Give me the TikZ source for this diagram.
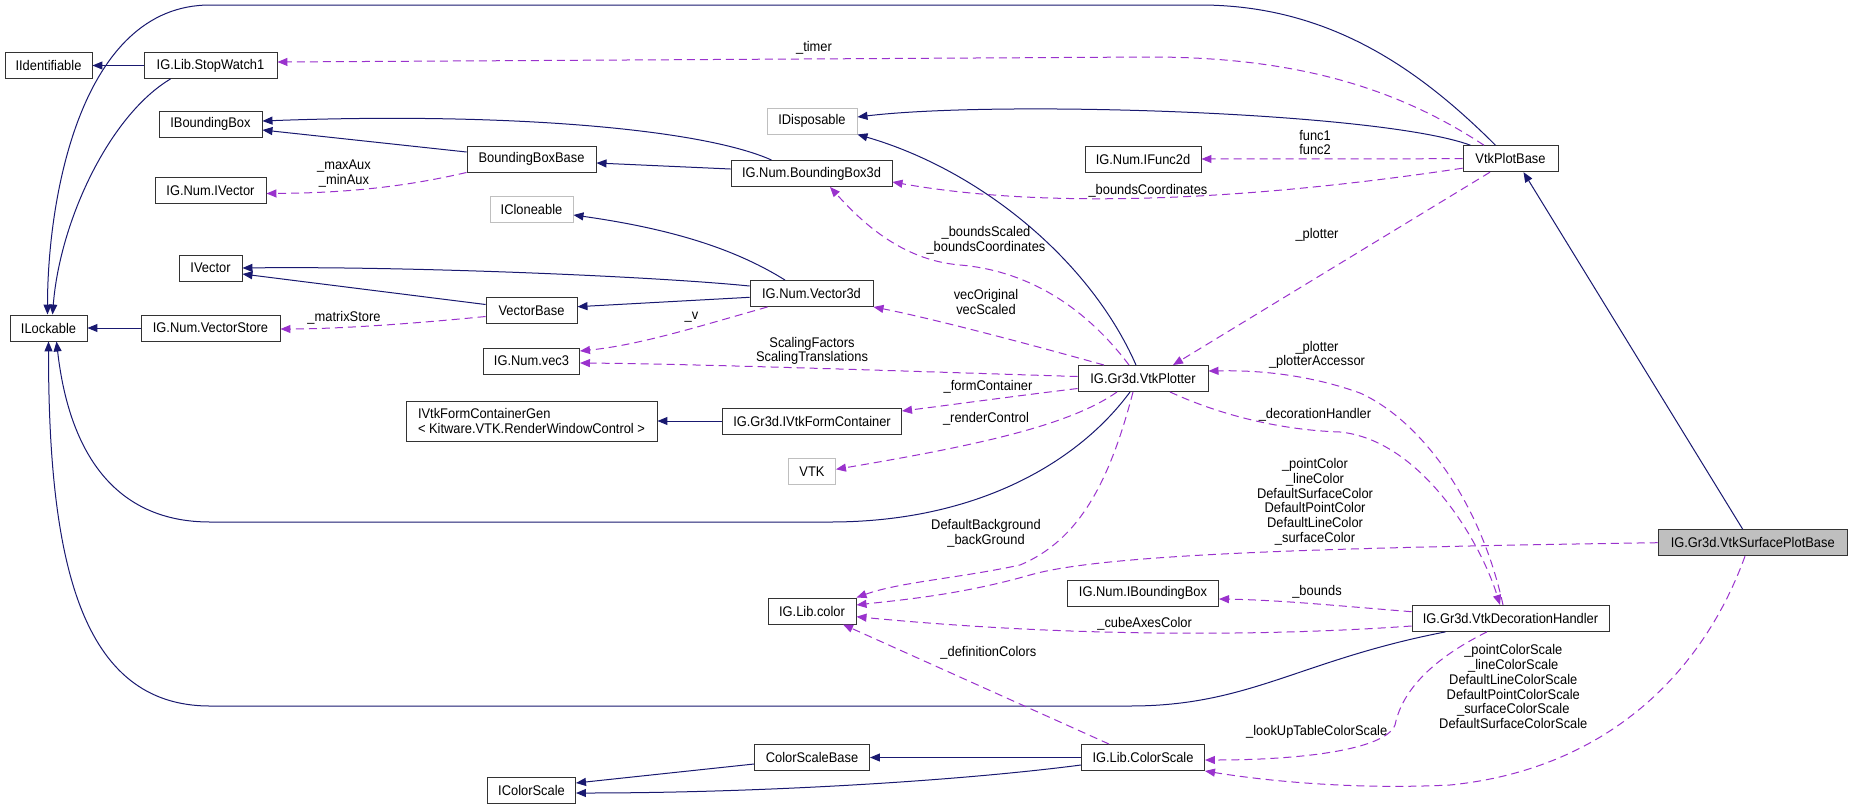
\documentclass[tikz,border=0pt]{standalone}
\usepackage{fontspec}
\newfontfamily\dgfam{Liberation Sans}[FakeStretch=0.92]
\newcommand\dgfont{\dgfam\fontsize{14pt}{14.7pt}\selectfont}
\usetikzlibrary{arrows.meta,calc}
\definecolor{dgnavy}{HTML}{191970}
\definecolor{dgorchid}{HTML}{9A32CD}
\definecolor{dggrey}{HTML}{BFBFBF}
\tikzset{
  box/.style={draw=black!80, line width=0.95pt, fill=white, inner sep=0pt, minimum height=26pt, font=\dgfont},
  gbox/.style={box, draw=dggrey},
  inh/.style={draw=dgnavy, line width=1pt, -{Triangle[length=10pt,width=8pt]}},
  use/.style={draw=dgorchid, line width=1pt, dash pattern=on 8pt off 5pt, -{Triangle[length=10pt,width=8pt]}},
  lbl/.style={font=\dgfont, align=center, inner sep=0pt},
}
\begin{document}
\begin{tikzpicture}[x=1pt,y=-1pt]
\useasboundingbox[fill=white] (0,0) rectangle (1852,809);
% column 1
\node[box,minimum width=87] (idf) at (48.5,65.5) {IIdentifiable};
\node[box,minimum width=77] (ilk) at (48.5,328) {ILockable};
% column 2
\node[box,minimum width=133] (sw) at (210.5,65.5) {IG.Lib.StopWatch1};
\node[box,minimum width=103] (ibb) at (210.5,124) {IBoundingBox};
\node[box,minimum width=111] (niv) at (210.5,190.5) {IG.Num.IVector};
\node[box,minimum width=63] (ivec) at (210.5,268) {IVector};
\node[box,minimum width=139] (vs) at (210.5,328) {IG.Num.VectorStore};
% column 3
\node[box,minimum width=129] (bbb) at (531.5,159) {BoundingBoxBase};
\node[gbox,minimum width=83] (icl) at (531.5,209.5) {ICloneable};
\node[box,minimum width=91] (vb) at (531.5,310.5) {VectorBase};
\node[box,minimum width=96] (v3) at (531.5,361) {IG.Num.vec3};
\node[box,minimum width=251,minimum height=40,align=left] (fcg) at (531.5,421) {IVtkFormContainerGen\\< Kitware.VTK.RenderWindowControl >};
\node[box,minimum width=88] (ics) at (531.5,790.5) {IColorScale};
% column 4
\node[gbox,minimum width=90] (idis) at (812,121) {IDisposable};
\node[box,minimum width=161] (bb3) at (811.5,173.5) {IG.Num.BoundingBox3d};
\node[box,minimum width=123] (vec3d) at (811.5,293.5) {IG.Num.Vector3d};
\node[box,minimum width=179] (fc) at (812,421) {IG.Gr3d.IVtkFormContainer};
\node[gbox,minimum width=47] (vtk) at (812,471.7) {VTK};
\node[box,minimum width=88] (col) at (812,611) {IG.Lib.color};
\node[box,minimum width=115] (csb) at (812,757.5) {ColorScaleBase};
% column 5
\node[box,minimum width=116] (f2d) at (1143,159) {IG.Num.IFunc2d};
\node[box,minimum width=130] (vp) at (1143,378.5) {IG.Gr3d.VtkPlotter};
\node[box,minimum width=151] (nibb) at (1143,593.3) {IG.Num.IBoundingBox};
\node[box,minimum width=123] (cs) at (1143,757.5) {IG.Lib.ColorScale};
% column 6
\node[box,minimum width=95] (vpb) at (1510.5,158.7) {VtkPlotBase};
\node[box,minimum width=197] (dh) at (1510.5,618.4) {IG.Gr3d.VtkDecorationHandler};
% column 7
\node[box,fill=dggrey,minimum width=189] (vspb) at (1752.7,542.7) {IG.Gr3d.VtkSurfacePlotBase};

% ---- inheritance edges
\draw[inh] (sw.west) -- (idf.east);
\draw[inh] ([xshift=-40pt]sw.south) .. controls (110,115) and (60,220) .. ([xshift=4pt]ilk.north);
\draw[inh] ([xshift=-15pt]vpb.north) .. controls (1420,70) and (1330,5) .. (1200,5) -- (210,5) .. controls (80,5) and (47.5,200) .. ([xshift=-1pt]ilk.north);
\draw[inh] ([xshift=-40pt]vpb.north) .. controls (1380,112) and (1000,100) .. ([yshift=4pt]idis.east);
\draw[inh] ([yshift=7pt]bbb.west) -- ([yshift=-6pt]ibb.east);
\draw[inh] ([xshift=-40pt]bb3.north) .. controls (700,128) and (500,112) .. ([yshift=3pt]ibb.east);
\draw[inh] ([yshift=4.5pt]bb3.west) -- ([yshift=-4pt]bbb.east);
\draw[inh] ([xshift=-26.5pt]vec3d.north) .. controls (740,252) and (680,230) .. ([yshift=-5.5pt]icl.east);
\draw[inh] ([yshift=7.5pt]vec3d.west) .. controls (650,276) and (400,266) .. (ivec.east);
\draw[inh] ([yshift=-3.8pt]vec3d.west) -- ([yshift=3.8pt]vb.east);
\draw[inh] ([yshift=6pt]vb.west) -- ([yshift=-6pt]ivec.east);
\draw[inh] (vs.west) -- (ilk.east);
\draw[inh] ([xshift=-7pt]vp.north) .. controls (1090,260) and (980,170) .. (idis.south east);
\draw[inh] ([xshift=-13pt]vp.south) .. controls (1080,460) and (980,522) .. (830,522) -- (210,522) .. controls (120,522) and (70,460) .. ([xshift=8pt]ilk.south);
\draw[inh] (fc.west) -- (fcg.east);
\draw[inh] ([xshift=-65pt]dh.south) .. controls (1300,660) and (1250,706) .. (1130,706) -- (210,706) .. controls (80,706) and (48.5,560) .. (ilk.south);
\draw[inh] ([xshift=-10pt]vspb.north) -- ([xshift=13pt]vpb.south);
\draw[inh] (cs.west) -- (csb.east);
\draw[inh] ([yshift=-7.5pt]cs.west) .. controls (950,782) and (750,793) .. ([yshift=-2.5pt]ics.east);
\draw[inh] ([yshift=-6.5pt]csb.west) -- ([yshift=7.5pt]ics.east);

% ---- usage edges
\draw[use] ([xshift=-26.5pt]vpb.north) .. controls (1400,90) and (1300,57) .. (1150,57) -- ([yshift=3.5pt]sw.east);
\draw[use] (vpb.west) -- (f2d.east);
\draw[use] ([yshift=-9.5pt]vpb.west) .. controls (1250,200) and (1050,210) .. ([yshift=-8.5pt]bb3.east);
\draw[use] ([xshift=-20.5pt]vpb.south) -- ([xshift=30pt]vp.north);
\draw[use] (bbb.south west) .. controls (400,188) and (340,193) .. ([yshift=-3pt]niv.east);
\draw[use] ([yshift=-6pt]vb.west) .. controls (400,325) and (330,329) .. ([yshift=-1pt]vs.east);
\draw[use] ([xshift=-44pt]vec3d.south) .. controls (700,326) and (640,345) .. ([yshift=10pt]v3.east);
\draw[use] ([xshift=-14pt]vp.north) .. controls (1080,300) and (1020,270) .. (960,265) .. controls (900,260) and (860,220) .. ([xshift=18.5pt]bb3.south);
\draw[use] ([xshift=-39pt]vp.north) .. controls (1000,336) and (920,316) .. (vec3d.south east);
\draw[use] ([yshift=2pt]vp.west) .. controls (900,371) and (700,364) .. ([yshift=-2pt]v3.east);
\draw[use] ([yshift=-10pt]vp.west) .. controls (1000,398) and (950,405) .. ([yshift=10pt]fc.east);
\draw[use] ([xshift=-26pt]vp.south) .. controls (1070,425) and (980,445) .. ([yshift=2.4pt]vtk.east);
\draw[use] ([xshift=-10pt]vp.south) .. controls (1110,480) and (1080,540) .. (1020,565) .. controls (960,578) and (900,582) .. (col.north east);
\draw[use] ([xshift=27pt]vp.south) .. controls (1220,415) and (1280,430) .. (1340,432) .. controls (1420,440) and (1480,540) .. ([xshift=-10.5pt]dh.north);
\draw[use] ([xshift=-7.5pt]dh.north) .. controls (1480,500) and (1420,420) .. (1360,393) .. controls (1310,375) and (1260,370) .. ([yshift=7.5pt]vp.east);
\draw[use] (vspb.west) .. controls (1300,548) and (1100,555) .. (1030,575) .. controls (960,595) and (900,600) .. ([yshift=6pt]col.east);
\draw[use] ([yshift=6.7pt]dh.west) .. controls (1340,606) and (1280,600) .. ([yshift=-5.7pt]nibb.east);
\draw[use] ([yshift=-7.6pt]dh.west) .. controls (1300,634) and (1100,640) .. ([yshift=-5.7pt]col.east);
\draw[use] ([xshift=-34pt]cs.north) -- ([xshift=31pt]col.south);
\draw[use] ([xshift=-23.5pt]dh.south) .. controls (1420,665) and (1400,700) .. (1395,725) .. controls (1385,750) and (1300,760) .. ([yshift=-2.5pt]cs.east);
\draw[use] ([xshift=-7.7pt]vspb.south) .. controls (1700,680) and (1600,770) .. (1450,785) .. controls (1350,790) and (1260,780) .. (cs.south east);

% ---- labels
\node[lbl] (l1) at (814,48) {\_timer};
\node[lbl] (l2) at (1315,142.5) {func1\\func2};
\node[lbl] (l3) at (1148,190.7) {\_boundsCoordinates};
\node[lbl] (l4) at (1317,235) {\_plotter};
\node[lbl] (l5) at (344,173.7) {\_maxAux\\\_minAux};
\node[lbl] (l6) at (344,318.3) {\_matrixStore};
\node[lbl] (l7) at (691.5,316.7) {\_v};
\node[lbl] (l8) at (986,240) {\_boundsScaled\\\_boundsCoordinates};
\node[lbl] (l9) at (986,301.7) {vecOriginal\\vecScaled};
\node[lbl] (l10) at (812,350.8) {ScalingFactors\\ScalingTranslations};
\node[lbl] (l11) at (988,386.7) {\_formContainer};
\node[lbl] (l12) at (986,419.3) {\_renderControl};
\node[lbl] (l13) at (986,533.3) {DefaultBackground\\\_backGround};
\node[lbl] (l14) at (1315,415) {\_decorationHandler};
\node[lbl] (l15) at (1317,355) {\_plotter\\\_plotterAccessor};
\node[lbl] (l16) at (1315,501.7) {\_pointColor\\\_lineColor\\DefaultSurfaceColor\\DefaultPointColor\\DefaultLineColor\\\_surfaceColor};
\node[lbl] (l17) at (1317,591.7) {\_bounds};
\node[lbl] (l18) at (1144.6,624.3) {\_cubeAxesColor};
\node[lbl] (l19) at (988.4,652.7) {\_definitionColors};
\node[lbl] (l20) at (1316.7,731.7) {\_lookUpTableColorScale};
\node[lbl] (l21) at (1513.3,686.7) {\_pointColorScale\\\_lineColorScale\\DefaultLineColorScale\\DefaultPointColorScale\\\_surfaceColorScale\\DefaultSurfaceColorScale};
\end{tikzpicture}
\end{document}
